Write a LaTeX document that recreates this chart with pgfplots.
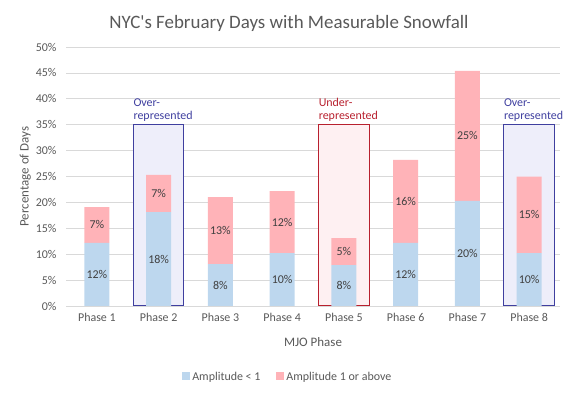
\documentclass[border=0pt]{standalone}
\usepackage{fontspec}
\setmainfont{Carlito}
\usepackage{pgfplots}
\pgfplotsset{compat=1.18}
\usepackage{pgfplotstable}
\definecolor{lblue}{HTML}{BDD7EE}
\definecolor{lpink}{HTML}{FFB3B8}
\definecolor{txtgray}{HTML}{595959}
\definecolor{lbltxt}{HTML}{404040}
\definecolor{gridgray}{HTML}{D9D9D9}
\definecolor{obl}{HTML}{3F3F9F}
\definecolor{obfill}{HTML}{EEEEFA}
\definecolor{ured}{HTML}{B8202E}
\definecolor{urfill}{HTML}{FEF0F2}

\pgfplotstableread{
x lo hi
1 12.2 6.9
2 18.1 7.2
3 8.1 12.9
4 10.2 12.0
5 7.9 5.2
6 12.2 16.0
7 20.3 25.1
8 10.2 14.8
}\data

\pgfplotsset{
  common/.style={
    at={(66bp,88bp)}, anchor=south west, scale only axis,
    width=494bp, height=259bp,
    xmin=0.5, xmax=8.5, ymin=0, ymax=50,
  }
}

\begin{document}
\begin{tikzpicture}
\useasboundingbox (0,0) rectangle (572bp,394bp);
\node[font=\fontsize{19}{21}\selectfont, text=txtgray] at (289bp,371bp) {NYC\textquotesingle s February Days with Measurable Snowfall};
% frame: grid, ticks, labels
\begin{axis}[common,
  xtick={1,...,8},
  xticklabels={Phase 1,Phase 2,Phase 3,Phase 4,Phase 5,Phase 6,Phase 7,Phase 8},
  ytick={0,5,...,50},
  yticklabel={\pgfmathprintnumber{\tick}\%},
  /pgf/number format/assume math mode=true,
  ymajorgrids, grid style={gridgray, line width=0.75bp},
  axis x line*=bottom, axis y line*=left,
  y axis line style={draw=none},
  x axis line style={gridgray, line width=0.75bp, -},
  major tick length=0pt,
  tick label style={font=\fontsize{12}{14}\selectfont, text=txtgray},
  xticklabel style={yshift=-4bp},
  yticklabel style={xshift=-6bp},
  xlabel={MJO Phase}, ylabel={Percentage of Days},
  label style={font=\fontsize{13}{15}\selectfont, text=txtgray},
  xlabel style={yshift=-9bp},
  ylabel style={yshift=-2bp},
]
\end{axis}
% highlight boxes and notes
\begin{axis}[common, hide axis, clip=false]
\draw[obl, fill=obfill, line width=1bp] (axis cs:1.59,0) rectangle (axis cs:2.41,35);
\draw[ured, fill=urfill, line width=1bp] (axis cs:4.59,0) rectangle (axis cs:5.41,35);
\draw[obl, fill=obfill, line width=1bp] (axis cs:7.59,0) rectangle (axis cs:8.41,35);
\node[anchor=south west, align=left, inner sep=0pt, text=obl, font=\fontsize{12}{13.5}\selectfont] at ([yshift=3bp]axis cs:1.59,35) {Over-\\represented};
\node[anchor=south west, align=left, inner sep=0pt, text=ured, font=\fontsize{12}{13.5}\selectfont] at ([yshift=3bp]axis cs:4.59,35) {Under-\\represented};
\node[anchor=south west, align=left, inner sep=0pt, text=obl, font=\fontsize{12}{13.5}\selectfont] at ([yshift=3bp]axis cs:7.59,35) {Over-\\represented};
\end{axis}
% bars and legend
\begin{axis}[common, hide axis,
  ybar stacked, bar width=25bp,
  legend style={at={(0.449,-0.274)}, anchor=center, draw=none, fill=none,
    legend columns=2, font=\fontsize{12}{14}\selectfont, text=txtgray,
    /tikz/every even column/.append style={column sep=14bp}},
  legend image code/.code={\fill[#1] (0bp,-3.5bp) rectangle (8bp,4.5bp);},
]
\addplot[fill=lblue, draw=none] table[x=x, y=lo] {\data};
\addplot[fill=lpink, draw=none] table[x=x, y=hi] {\data};
\legend{Amplitude < 1, Amplitude 1 or above}
\end{axis}
% value labels
\begin{axis}[common, hide axis,
  nodes near coords={\pgfmathprintnumber[fixed,precision=0,assume math mode=true]{\pgfplotspointmeta}\%},
  every node near coord/.append style={anchor=center, font=\fontsize{12}{14}\selectfont, text=lbltxt},
  point meta=explicit]
\addplot[only marks, mark=none] table[x=x, y expr=\thisrow{lo}/2, meta=lo] {\data};
\addplot[only marks, mark=none] table[x=x, y expr=\thisrow{lo}+\thisrow{hi}/2, meta=hi] {\data};
\end{axis}
\end{tikzpicture}
\end{document}
